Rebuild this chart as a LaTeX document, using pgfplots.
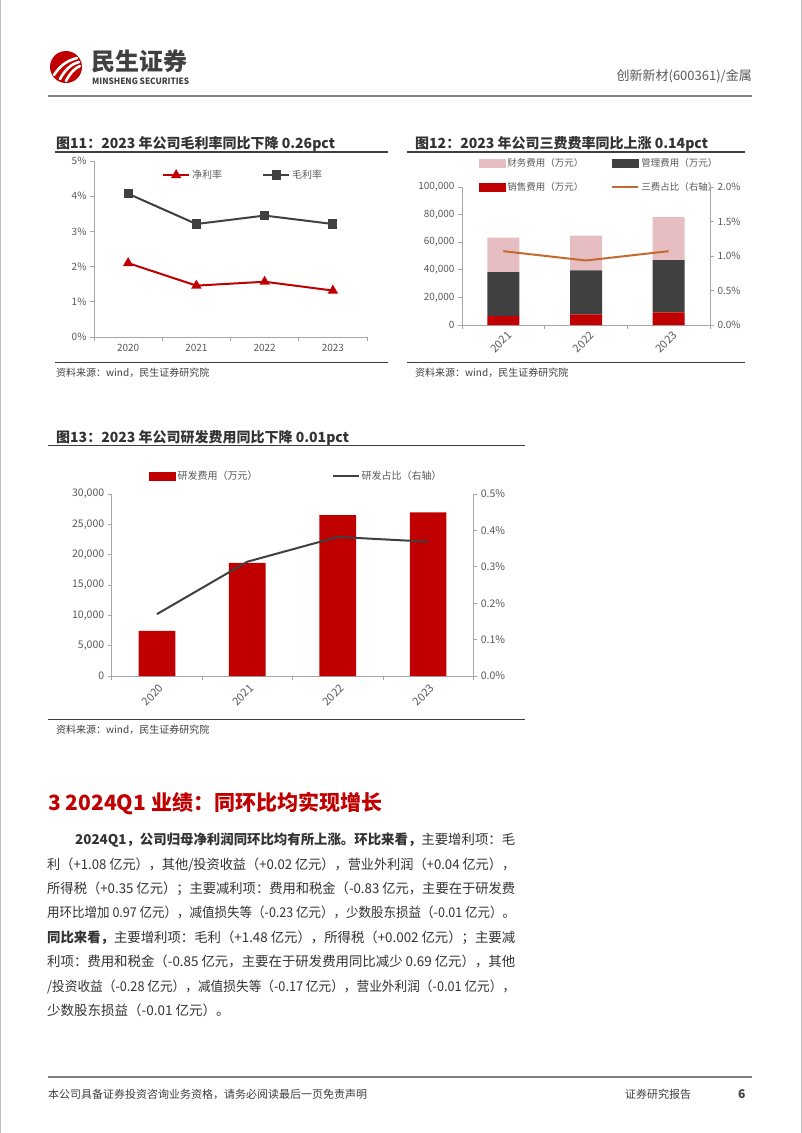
\documentclass[border=0pt]{standalone}
\usepackage{fontspec}
\setmainfont{Noto Sans CJK SC}
\usepackage{graphicx}
\usepackage{pgfplots}
\pgfplotsset{compat=1.18}
\definecolor{msred}{HTML}{C00000}
\definecolor{dgray}{HTML}{404040}
\definecolor{pinkc}{HTML}{E6BDC0}
\definecolor{orangec}{HTML}{C46A30}
\definecolor{axisc}{HTML}{A6A6A6}
\definecolor{tickc}{HTML}{595959}
\definecolor{textc}{HTML}{333333}
\newcommand\fs[1]{\fontsize{#1}{#1}\selectfont}
\pgfplotsset{
 myaxis/.style={
  scale only axis,
  anchor=south west,
  tick style={axisc, line width=0.8pt},
  tick align=outside,
  major tick length=4pt, minor tick length=4pt,
  tick label style={font=\fs{10}, text=tickc},
  /pgf/number format/assume math mode=true,
  scaled y ticks=false,
  clip=false,
  legend cell align=left,
  legend style={draw=none, fill=none, inner sep=0pt, font=\fs{10}, text=tickc},
 },
 myxy/.style={axis x line*=bottom, axis y line*=left, axis line style={axisc, line width=0.8pt, -}},
}
\newcommand\jl[4]{\node[anchor=base west,inner sep=0pt,font=\fs{13.5},text=textc] at (#1pt,-#2pt) {\resizebox{#3pt}{\height}{#4}};}
\newcommand\tl[3]{\node[anchor=base west,inner sep=0pt,font=\fs{13.5},text=textc] at (#1pt,-#2pt) {#3};}
\begin{document}
\begin{tikzpicture}
\useasboundingbox (0,0) rectangle (802pt,-1133pt);
\fill[white] (0,0) rectangle (802pt,-1133pt);
\draw[gray!50, line width=1pt] (0.5pt,0pt) -- (0.5pt,-1133pt);
\draw[gray!50, line width=1pt] (801.5pt,0pt) -- (801.5pt,-1133pt);
% ---------- header
\fill[msred] (66pt,-67pt) circle (16pt);
\begin{scope}[white, line width=2.6pt, line cap=round]
\draw (54pt,-75pt) .. controls (60pt,-66pt) and (66pt,-61pt) .. (77pt,-58pt);
\draw (60pt,-79pt) .. controls (65pt,-70pt) and (71pt,-64pt) .. (79pt,-62pt);
\draw (66pt,-81pt) .. controls (70pt,-73pt) and (75pt,-68pt) .. (80pt,-66pt);
\end{scope}
\node[anchor=base west, inner sep=0pt, font=\bfseries\fs{24}, text=dgray] at (91pt,-70.5pt) {民生证券};
\node[anchor=base west, inner sep=0pt, font=\bfseries\fs{8.6}, text=dgray] at (92pt,-84pt) {\resizebox{97pt}{\height}{MINSHENG SECURITIES}};
\node[anchor=base east, inner sep=0pt, font=\fs{13}, text=tickc] at (752pt,-80pt) {创新新材(600361)/金属};
\draw[gray, line width=1.5pt] (48pt,-96pt) -- (752pt,-96pt);
% ---------- footer
\draw[gray, line width=1.2pt] (48pt,-1077pt) -- (752pt,-1077pt);
\node[anchor=base west, inner sep=0pt, font=\fs{11}, text=dgray] at (48pt,-1098pt) {本公司具备证券投资咨询业务资格，请务必阅读最后一页免责声明};
\node[anchor=base west, inner sep=0pt, font=\fs{11}, text=dgray] at (625pt,-1098pt) {证券研究报告};
\node[anchor=base west, inner sep=0pt, font=\bfseries\fs{12}, text=dgray] at (738pt,-1098pt) {6};
% ---------- chart titles and sources
\node[anchor=base west, inner sep=0pt, font=\bfseries\fs{14}, text=textc] at (56pt,-148.3pt) {图11：2023 年公司毛利率同比下降 0.26pct};
\draw[dgray, line width=1.2pt] (55pt,-152pt) -- (388pt,-152pt);
\draw[dgray, line width=1pt] (55pt,-362pt) -- (388pt,-362pt);
\node[anchor=base west, inner sep=0pt, font=\fs{10}, text=dgray] at (56pt,-376.5pt) {资料来源：wind，民生证券研究院};
\node[anchor=base west, inner sep=0pt, font=\bfseries\fs{14}, text=textc] at (415pt,-148.3pt) {图12：2023 年公司三费费率同比上涨 0.14pct};
\draw[dgray, line width=1.2pt] (407pt,-152pt) -- (745pt,-152pt);
\draw[dgray, line width=1pt] (407pt,-362pt) -- (745pt,-362pt);
\node[anchor=base west, inner sep=0pt, font=\fs{10}, text=dgray] at (415pt,-376.5pt) {资料来源：wind，民生证券研究院};
\node[anchor=base west, inner sep=0pt, font=\bfseries\fs{14}, text=textc] at (56pt,-442pt) {图13：2023 年公司研发费用同比下降 0.01pct};
\draw[dgray, line width=1.2pt] (48pt,-445.5pt) -- (525pt,-445.5pt);
\draw[dgray, line width=1pt] (48pt,-719pt) -- (525pt,-719pt);
\node[anchor=base west, inner sep=0pt, font=\fs{10}, text=dgray] at (56pt,-733pt) {资料来源：wind，民生证券研究院};
% ---------- chart 11
\begin{axis}[myaxis, myxy, at={(94pt,-337pt)}, width=273pt, height=176pt,
 xmin=0, xmax=4, ymin=0, ymax=5,
 xtick={0.5,1.5,2.5,3.5}, xticklabels={2020,2021,2022,2023},
 major x tick style={draw=none}, minor xtick={0,1,2,3,4},
 ytick={0,1,2,3,4,5}, yticklabel={\pgfmathprintnumber{\tick}\%},
 legend columns=2,
 legend style={at={(0.249,0.92)}, anchor=west, /tikz/every even column/.append style={column sep=38pt}},
 legend image code/.code={\draw[mark repeat=2,mark phase=2] plot coordinates {(0pt,0pt) (13pt,0pt) (26pt,0pt)};},
]
\addplot[msred, line width=2pt, mark=triangle*, mark size=4pt, mark options={solid}] coordinates {(0.5,2.10) (1.5,1.46) (2.5,1.57) (3.5,1.32)};
\addlegendentry{净利率}
\addplot[dgray, line width=2pt, mark=square*, mark size=3.6pt, mark options={solid}] coordinates {(0.5,4.07) (1.5,3.21) (2.5,3.45) (3.5,3.21)};
\addlegendentry{毛利率}
\end{axis}
% ---------- chart 12
\begin{axis}[myaxis, myxy, at={(462pt,-325pt)}, width=248pt, height=138pt,
 xmin=-0.5, xmax=2.5, ymin=0, ymax=100000,
 ybar stacked, bar width=32pt,
 xtick={0,1,2}, xticklabels={2021,2022,2023},
 major x tick style={draw=none}, minor xtick={-0.5,0.5,1.5,2.5},
 x tick label style={rotate=45, anchor=north east, xshift=5pt, font=\fs{11}},
 ytick={0,20000,40000,60000,80000,100000},
 yticklabel={\pgfmathprintnumber[fixed,precision=0,1000 sep={,}]{\tick}},
 legend columns=2,
 legend style={at={(0.068,1.087)}, anchor=west, font=\fs{9.5}, /tikz/row sep=10pt, /tikz/every even column/.append style={column sep=26pt}},
]
\addplot[fill=msred, draw=none, forget plot] coordinates {(0,6700) (1,7700) (2,9200)};
\addplot[fill=dgray, draw=none, forget plot] coordinates {(0,31600) (1,31800) (2,37800)};
\addplot[fill=pinkc, draw=none, forget plot] coordinates {(0,25100) (1,25300) (2,31100)};
\addlegendimage{legend image code/.code={\fill[pinkc] (0pt,-4pt) rectangle (26pt,4pt);}}
\addlegendentry{财务费用（万元）}
\addlegendimage{legend image code/.code={\fill[dgray] (0pt,-4pt) rectangle (26pt,4pt);}}
\addlegendentry{管理费用（万元）}
\addlegendimage{legend image code/.code={\fill[msred] (0pt,-4pt) rectangle (26pt,4pt);}}
\addlegendentry{销售费用（万元）}
\addlegendimage{legend image code/.code={\draw[orangec, line width=2pt] (0pt,0pt) -- (26pt,0pt);}}
\addlegendentry{三费占比（右轴）}
\end{axis}
\begin{axis}[myaxis, at={(462pt,-325pt)}, width=248pt, height=138pt,
 xmin=-0.5, xmax=2.5, ymin=0, ymax=2,
 axis y line*=right, axis x line=none, axis line style={axisc, line width=0.8pt, -},
 ytick={0,0.5,1,1.5,2},
 yticklabel={\pgfmathprintnumber[fixed,fixed zerofill,precision=1]{\tick}\%},
]
\addplot[orangec, line width=2pt] coordinates {(0,1.07) (1,0.935) (2,1.07)};
\end{axis}
% ---------- chart 13
\begin{axis}[myaxis, myxy, at={(111.7pt,-676pt)}, width=361.6pt, height=182pt,
 xmin=-0.5, xmax=3.5, ymin=0, ymax=30000,
 ybar, bar width=36.7pt, bar shift=0pt,
 xtick={0,1,2,3}, xticklabels={2020,2021,2022,2023},
 major x tick style={draw=none}, minor xtick={-0.5,0.5,1.5,2.5,3.5},
 tick label style={font=\fs{10.5}},
 x tick label style={rotate=45, anchor=north east, xshift=2pt, font=\fs{11}},
 ytick={0,5000,10000,15000,20000,25000,30000},
 yticklabel={\pgfmathprintnumber[fixed,precision=0,1000 sep={,}]{\tick}},
 legend columns=2,
 legend style={at={(0.103,1.099)}, anchor=west, font=\fs{10}, /tikz/every even column/.append style={column sep=72pt}},
]
\addplot[fill=msred, draw=none, forget plot] coordinates {(0,7420) (1,18630) (2,26540) (3,26980)};
\addlegendimage{legend image code/.code={\fill[msred] (0pt,-4pt) rectangle (26pt,4pt);}}
\addlegendentry{研发费用（万元）}
\addlegendimage{legend image code/.code={\draw[dgray, line width=2pt] (0pt,0pt) -- (26pt,0pt);}}
\addlegendentry{研发占比（右轴）}
\end{axis}
\begin{axis}[myaxis, at={(111.7pt,-676pt)}, width=361.6pt, height=182pt,
 xmin=-0.5, xmax=3.5, ymin=0, ymax=0.5,
 axis y line*=right, axis x line=none, axis line style={axisc, line width=0.8pt, -},
 tick label style={font=\fs{10.5}},
 ytick={0,0.1,0.2,0.3,0.4,0.5},
 yticklabel={\pgfmathprintnumber[fixed,fixed zerofill,precision=1]{\tick}\%},
]
\addplot[dgray, line width=2pt] coordinates {(0,0.170) (1,0.314) (2,0.382) (3,0.369)};
\end{axis}
% ---------- body
\node[anchor=base west, inner sep=0pt, font=\bfseries\fs{21}, text=msred] at (48pt,-810pt) {3 2024Q1 业绩：同环比均实现增长};
\jl{75}{844.6}{440}{{\bfseries 2024Q1，公司归母净利润同环比均有所上涨。环比来看，}主要增利项：毛}
\jl{47}{869}{468}{利（+1.08 亿元），其他/投资收益（+0.02 亿元），营业外利润（+0.04 亿元），}
\jl{47}{893.4}{468}{所得税（+0.35 亿元）；主要减利项：费用和税金（-0.83 亿元，主要在于研发费}
\jl{47}{917.8}{468}{用环比增加 0.97 亿元），减值损失等（-0.23 亿元），少数股东损益（-0.01 亿元）。}
\jl{47}{942.2}{468}{{\bfseries 同比来看，}主要增利项：毛利（+1.48 亿元），所得税（+0.002 亿元）；主要减}
\jl{47}{966.6}{468}{利项：费用和税金（-0.85 亿元，主要在于研发费用同比减少 0.69 亿元），其他}
\jl{47}{991}{468}{/投资收益（-0.28 亿元），减值损失等（-0.17 亿元），营业外利润（-0.01 亿元），}
\tl{47}{1015.4}{少数股东损益（-0.01 亿元）。}
\end{tikzpicture}
\end{document}
